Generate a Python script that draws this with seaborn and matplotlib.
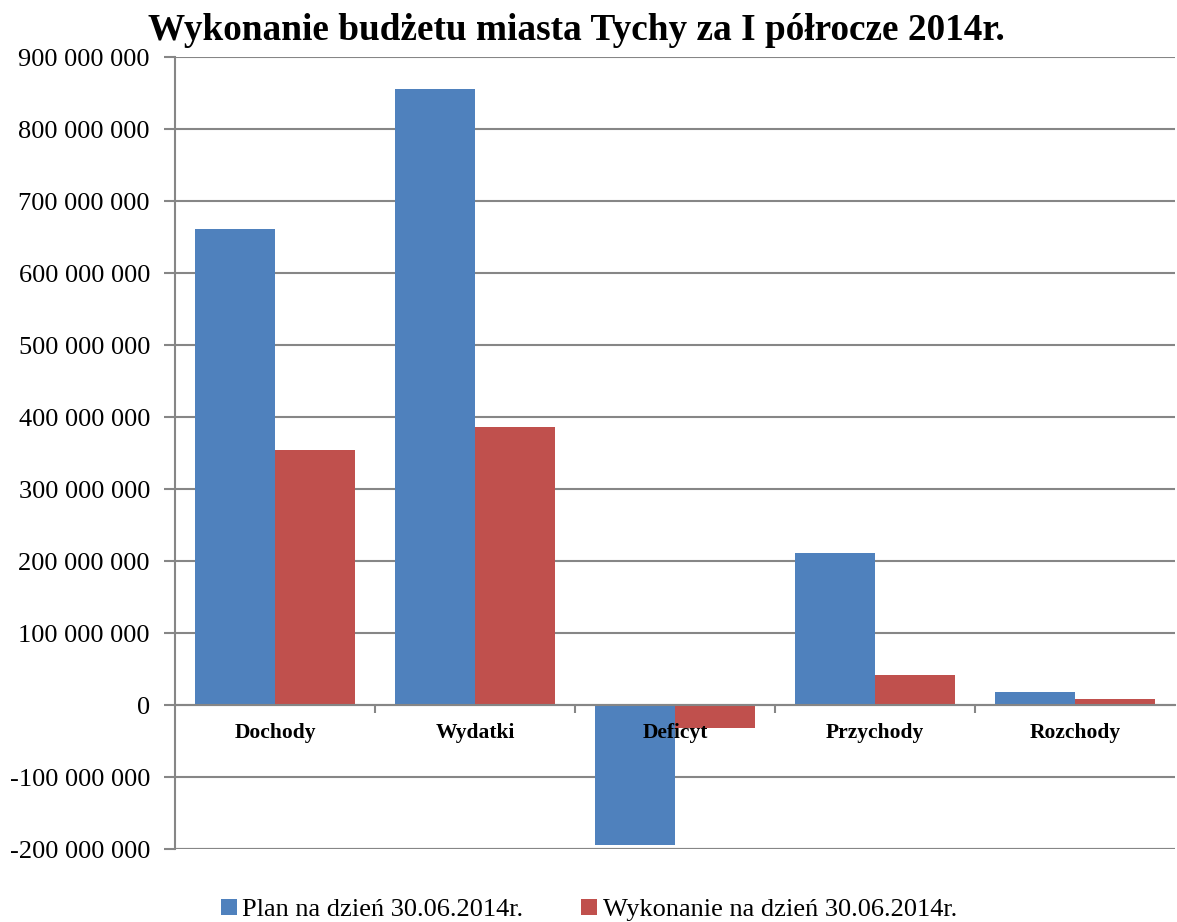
import matplotlib
matplotlib.use("Agg")
import matplotlib.pyplot as plt
import matplotlib.ticker as mticker
from matplotlib.patches import Patch
import seaborn as sns
import pandas as pd

categories = ["Dochody", "Wydatki", "Deficyt", "Przychody", "Rozchody"]
plan = [661_000_000, 855_500_000, -194_000_000, 211_000_000, 18_000_000]
wykonanie = [353_500_000, 386_000_000, -32_000_000, 41_500_000, 8_500_000]
series = ["Plan na dzień 30.06.2014r.", "Wykonanie na dzień 30.06.2014r."]
colors = ["#4F81BD", "#C0504D"]
title = "Wykonanie budżetu miasta Tychy za I półrocze 2014r."

df = pd.DataFrame({
    "kategoria": categories * 2,
    "seria": [series[0]] * len(categories) + [series[1]] * len(categories),
    "wartosc": plan + wykonanie,
})

sns.set_theme(style="white")
plt.rcParams["font.family"] = ["Liberation Serif", "DejaVu Serif"]
plt.rcParams["text.color"] = "black"
plt.rcParams["xtick.labelcolor"] = "black"
plt.rcParams["ytick.labelcolor"] = "black"

fig = plt.figure(figsize=(11.77, 9.22), dpi=100)
ax = fig.add_axes([175 / 1177, (922 - 849) / 922, 1000 / 1177, 792 / 922])

sns.barplot(data=df, x="kategoria", y="wartosc", hue="seria", order=categories,
            hue_order=series, palette=colors, width=0.8, saturation=1,
            ax=ax, legend=False, edgecolor="none", linewidth=0)

ax.set_ylim(-200_000_000, 900_000_000)
ax.set_xlim(-0.5, len(categories) - 0.5)
ax.yaxis.set_major_locator(mticker.MultipleLocator(100_000_000))
ax.yaxis.set_major_formatter(mticker.FuncFormatter(
    lambda v, p: f"{int(round(v)):,}".replace(",", " ")))
ax.grid(axis="y", color="#868686", linewidth=1.5)
ax.set_axisbelow(True)
for s in ["top", "right"]:
    ax.spines[s].set_visible(False)
ax.spines["left"].set_color("#868686")
ax.spines["left"].set_linewidth(1.5)
ax.spines["bottom"].set_position(("data", 0))
ax.spines["bottom"].set_color("#868686")
ax.spines["bottom"].set_linewidth(1.5)
ax.spines["bottom"].set_zorder(3)

ax.tick_params(axis="y", which="major", length=8, width=1.5, color="#868686",
               labelsize=19, pad=10, left=True, labelcolor="black")
ax.set_xticks(range(len(categories)))
ax.set_xticklabels([])
ax.tick_params(axis="x", which="major", length=0)
ax.set_xticks([i + 0.5 for i in range(len(categories) - 1)], minor=True)
ax.tick_params(axis="x", which="minor", length=6, width=1.5, color="#868686",
               direction="out", bottom=True)
for i, cat in enumerate(categories):
    ax.annotate(cat, xy=(i, 0), xycoords="data", xytext=(0, -20),
                textcoords="offset points", ha="center", va="center",
                fontsize=15.5, fontweight="bold", color="black", zorder=6)
ax.set_xlabel("")
ax.set_ylabel("")
ax.axhline(-200_000_000, color="#868686", linewidth=1.5, zorder=0.5)

fig.text(576 / 1177, 1 - 30 / 922, title, ha="center", va="center",
         fontsize=26.8, fontweight="bold", color="black")

handles = [Patch(facecolor=c, edgecolor="none") for c in colors]
fig.legend(handles, series, loc="center", bbox_to_anchor=(589 / 1177, 1 - 910 / 922),
           ncol=2, frameon=False, fontsize=19, handlelength=0.6, handleheight=0.6,
           handletextpad=0.2, columnspacing=2.2, labelcolor="black")

fig.savefig("out.png", dpi=100)
